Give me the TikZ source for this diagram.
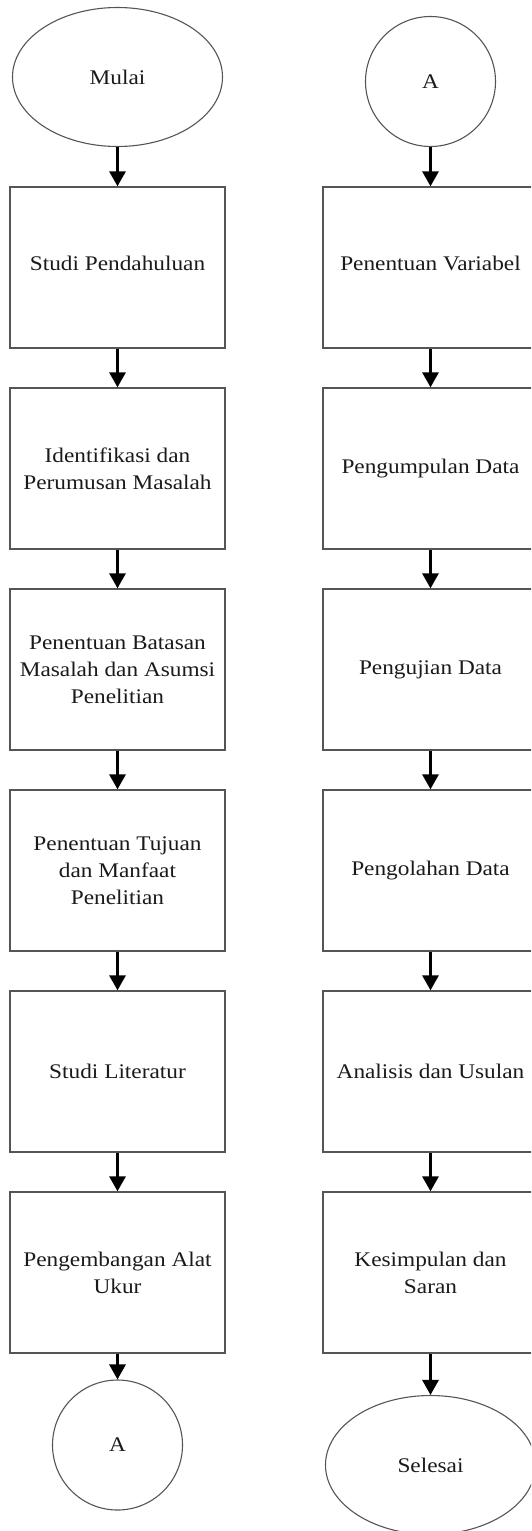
\documentclass[tikz,border=0pt]{standalone}
\usepackage{fontspec}
\setmainfont{Liberation Serif}[FakeStretch=1.12]
\usetikzlibrary{shapes.geometric,arrows.meta}
\definecolor{edge}{HTML}{555555}
\definecolor{ink}{HTML}{1A1A1A}
\begin{document}
\begin{tikzpicture}[x=1pt,y=-1pt,
  every node/.style={font=\fontsize{20.8}{27}\selectfont, text=ink},
  procbox/.style={draw=edge, line width=1.3pt, rectangle, minimum width=215pt, minimum height=161pt, inner sep=0pt, align=center},
  termin/.style={draw=edge, line width=1.1pt, ellipse, minimum width=210pt, minimum height=139pt, inner sep=0pt},
  conn/.style={draw=edge, line width=1.1pt, circle, minimum size=130pt, inner sep=0pt},
  flow/.style={line width=3pt, -{Triangle[width=16pt,length=15pt]}}
]
\useasboundingbox (0,0) rectangle (531,1531);
\clip (0,0) rectangle (531,1531);
% left column
\node[termin] (mulai) at (117.5,77) {Mulai};
\node[procbox] (l1) at (117.5,267.5) {\raisebox{8pt}{Studi Pendahuluan}};
\node[procbox] (l2) at (117.5,468.5) {Identifikasi dan\\Perumusan Masalah};
\node[procbox] (l3) at (117.5,669.5) {Penentuan Batasan\\Masalah dan Asumsi\\Penelitian};
\node[procbox] (l4) at (117.5,870.5) {Penentuan Tujuan\\dan Manfaat\\Penelitian};
\node[procbox] (l5) at (117.5,1071.5) {Studi Literatur};
\node[procbox] (l6) at (117.5,1272.5) {Pengembangan Alat\\Ukur};
\node[conn] (la) at (117.5,1445) {A};
% right column
\node[conn] (ra) at (430.5,81.5) {A};
\node[procbox] (r1) at (430.5,267.5) {\raisebox{8pt}{Penentuan Variabel}};
\node[procbox] (r2) at (430.5,468.5) {Pengumpulan Data};
\node[procbox] (r3) at (430.5,669.5) {Pengujian Data};
\node[procbox] (r4) at (430.5,870.5) {Pengolahan Data};
\node[procbox] (r5) at (430.5,1071.5) {Analisis dan Usulan};
\node[procbox] (r6) at (430.5,1272.5) {Kesimpulan dan\\Saran};
\node[termin] (selesai) at (430.5,1465) {Selesai};
% connectors
\draw[flow] (mulai.south) -- (l1.north);
\draw[flow] (l1.south) -- (l2.north);
\draw[flow] (l2.south) -- (l3.north);
\draw[flow] (l3.south) -- (l4.north);
\draw[flow] (l4.south) -- (l5.north);
\draw[flow] (l5.south) -- (l6.north);
\draw[flow] (l6.south) -- (la.north);
\draw[flow] (ra.south) -- (r1.north);
\draw[flow] (r1.south) -- (r2.north);
\draw[flow] (r2.south) -- (r3.north);
\draw[flow] (r3.south) -- (r4.north);
\draw[flow] (r4.south) -- (r5.north);
\draw[flow] (r5.south) -- (r6.north);
\draw[flow] (r6.south) -- (selesai.north);
\end{tikzpicture}
\end{document}
